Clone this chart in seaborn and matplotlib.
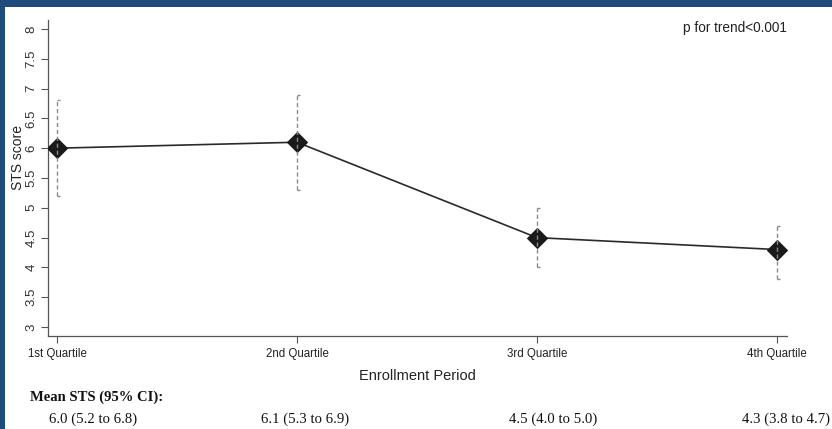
import numpy as np
import pandas as pd
import matplotlib
matplotlib.use("Agg")
import matplotlib.pyplot as plt
from matplotlib.patches import Rectangle
import seaborn as sns

# Enrollment-period quartiles and mean STS score with 95% CI
quartiles = ["1st Quartile", "2nd Quartile", "3rd Quartile", "4th Quartile"]
mean_sts = [6.0, 6.1, 4.5, 4.3]
ci_low = [5.2, 5.3, 4.0, 3.8]
ci_high = [6.8, 6.9, 5.0, 4.7]
y_ticks = [3, 3.5, 4, 4.5, 5, 5.5, 6, 6.5, 7, 7.5, 8]
trend_note = "p for trend<0.001"

sns.set_style("ticks")
plt.rcParams["font.family"] = ["Liberation Sans", "DejaVu Sans"]

df = pd.DataFrame({"period": quartiles, "mean": mean_sts,
                   "lo": ci_low, "hi": ci_high})
pos = np.arange(len(quartiles))

fig = plt.figure(figsize=(8.32, 4.29), dpi=100)
fig.patch.set_facecolor("white")
ax = fig.add_axes([48 / 832, 93 / 429, (787 - 48) / 832, (336 - 20) / 429])

sns.lineplot(data=df, x="period", y="mean", ax=ax, sort=False,
             color="#2a2a2a", linewidth=1.2, marker="D", markersize=10,
             markeredgecolor="#1a1a1a", markerfacecolor="#1a1a1a", zorder=3)

# dashed confidence intervals with right-facing bracket caps
ax.vlines(pos, df["lo"], df["hi"], colors="#8a8a8a", linestyles=(0, (3, 2)),
          linewidth=1.0, zorder=4)
cap = 0.014
ax.hlines(df["lo"], pos, pos + cap, colors="#8a8a8a", linewidth=1.0, zorder=4)
ax.hlines(df["hi"], pos, pos + cap, colors="#8a8a8a", linewidth=1.0, zorder=4)

ax.set_xlim(-0.0375, 3.042)
ax.set_ylim(2.85, 8.15)
ax.set_yticks(y_ticks)
ax.set_yticklabels([f"{t:g}" for t in y_ticks], rotation=90, va="center",
                   fontsize=9.5, color="#333333")
ax.set_xticks(pos)
ax.set_xticklabels(quartiles, fontsize=8.3, color="#222222")
ax.tick_params(axis="both", direction="out", length=5, width=0.8,
               color="#555555", pad=4)
ax.tick_params(axis="y", pad=2.5)

for side in ["top", "right"]:
    ax.spines[side].set_visible(False)
for side in ["left", "bottom"]:
    ax.spines[side].set_color("#555555")
    ax.spines[side].set_linewidth(0.9)

ax.set_xlabel("Enrollment Period", fontsize=10.5, color="#222222", labelpad=6)
ax.set_ylabel("STS score", fontsize=10, color="#222222")
ax.yaxis.set_label_coords(-0.031, 0.566)

ax.text(1.0, 0.975, trend_note, transform=ax.transAxes, ha="right", va="center",
        fontsize=9.8, color="#222222")

# summary table below the axis
fig.text(30 / 832, 1 - 397 / 429, "Mean STS (95% CI):", ha="left", va="center",
         fontsize=10.5, fontweight="bold", family=["Liberation Serif"],
         color="#111111")
label_x = [93.5, 305, 553, 786]
for x, m, lo, hi in zip(label_x, mean_sts, ci_low, ci_high):
    fig.text(x / 832, 1 - 419 / 429, f"{m:.1f} ({lo:.1f} to {hi:.1f})",
             ha="center", va="center", fontsize=10.6,
             family=["Liberation Serif"], color="#111111")

# page frame accents
fig.patches.append(Rectangle((0, 1 - 7 / 429), 1, 7 / 429, transform=fig.transFigure,
                             facecolor="#1f4a7c", edgecolor="none", zorder=10))
fig.patches.append(Rectangle((0, 0), 5 / 832, 1, transform=fig.transFigure,
                             facecolor="#1f4a7c", edgecolor="none", zorder=10))

fig.savefig("out.png", dpi=100)
